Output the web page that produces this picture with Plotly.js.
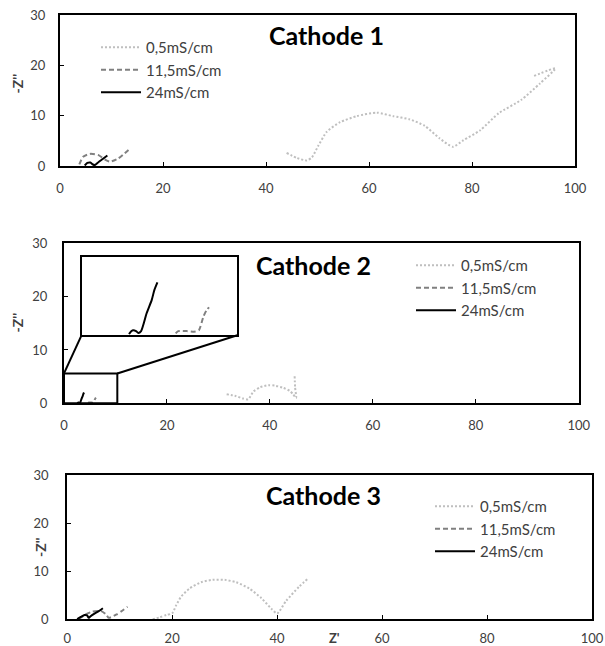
<!DOCTYPE html>
<html>
<head>
<meta charset="utf-8">
<script src="https://cdn.plot.ly/plotly-3.0.1.min.js"></script>
<style>html,body{margin:0;padding:0;background:#fff;}#chart{width:605px;height:646px;}</style>
</head>
<body>
<div id="chart"></div>
<script>
// ---------- DATA ----------
var seriesNames = ["0,5mS/cm", "11,5mS/cm", "24mS/cm"];
var panelTitles = ["Cathode 1", "Cathode 2", "Cathode 3"];
var xTickVals = [0, 20, 40, 60, 80, 100];
var yTickVals = [0, 10, 20, 30];

// Cathode 1
var c1_05_x = [44.0, 46.0, 47.9, 48.9, 50.2, 51.8, 54.4, 57.6, 61.5, 64.7, 67.8, 70.8, 73.7, 76.3, 78.3, 81.6, 85.2, 89.5, 93.2, 96.2, 91.8];
var c1_05_y = [2.6, 1.6, 1.1, 1.7, 4.1, 6.8, 8.7, 9.9, 10.6, 9.9, 9.3, 8.0, 5.5, 3.8, 5.1, 7.1, 10.5, 13.1, 16.4, 19.4, 17.8];
var c1_115_x = [3.75, 4.5, 5.8, 7.4, 8.7, 9.7, 11.3, 13.3];
var c1_115_y = [0.3, 1.85, 2.4, 2.2, 1.3, 0.85, 1.5, 3.2];
var c1_24_x = [4.8, 5.3, 5.9, 6.4, 6.8, 7.5, 8.3, 9.2];
var c1_24_y = [0.1, 0.6, 0.7, 0.3, 0.2, 0.8, 1.4, 2.1];

// Cathode 2
var c2_05_x = [31.6, 33.2, 34.8, 35.8, 36.8, 38.1, 39.7, 41.0, 42.6, 43.9, 44.5, 45.1, 44.9, 44.8];
var c2_05_y = [1.7, 1.4, 0.9, 0.75, 2.2, 3.0, 3.4, 3.3, 2.9, 2.3, 1.7, 1.0, 3.0, 5.3];
var c2_115_x = [4.72, 4.84, 5.22, 5.60, 5.78, 5.98, 6.13, 6.24];
var c2_115_y = [0.05, 0.14, 0.14, 0.12, 0.18, 0.70, 0.96, 1.06];
var c2_24_x = [2.60, 2.69, 2.78, 2.92, 3.02, 3.15, 3.40, 3.63, 3.75, 3.89];
var c2_24_y = [0.02, 0.12, 0.17, 0.14, 0.07, 0.14, 0.83, 1.34, 1.73, 2.03];

// Cathode 3
var c3_05_x = [16.3, 17.6, 18.9, 20.0, 20.8, 21.7, 23.3, 25.5, 27.7, 30.0, 32.2, 34.7, 37.0, 38.9, 40.0, 41.7, 44.2, 45.9];
var c3_05_y = [0.0, 0.4, 0.9, 1.25, 3.0, 4.7, 6.4, 7.7, 8.2, 8.2, 7.7, 6.4, 4.4, 2.2, 1.2, 3.8, 6.8, 8.5];
var c3_115_x = [2.2, 3.5, 4.8, 6.5, 7.5, 7.9, 9.4, 11.5];
var c3_115_y = [0.1, 1.0, 1.6, 1.7, 0.9, 0.3, 1.0, 2.6];
var c3_24_x = [1.9, 2.6, 3.3, 3.8, 4.1, 4.4, 5.2, 6.0, 6.8];
var c3_24_y = [0.05, 0.5, 0.9, 0.8, 0.3, 0.6, 1.2, 1.7, 2.3];

// ---------- STYLE ----------
var W = 605, H = 646;
var FONT = "Lato, 'Open Sans', sans-serif";
var TXT = "#404040";
var styles = [
  {color: "#bfbfbf", width: 2, dash: "2px,2px"},
  {color: "#808080", width: 2, dash: "5px,3px"},
  {color: "#000000", width: 2, dash: "solid"}
];
function px2x(p){ return p / W; }
function px2y(p){ return 1 - p / H; }

// panel pixel boxes [left, right, top, bottom]
var boxes = [[60, 575, 15, 166], [64, 578.7, 243.3, 403.3], [67.2, 592, 475, 619.3]];
var insetBox = [81.7, 237.3, 257.3, 334.7];

var panels = [
  [[c1_05_x, c1_05_y], [c1_115_x, c1_115_y], [c1_24_x, c1_24_y]],
  [[c2_05_x, c2_05_y], [c2_115_x, c2_115_y], [c2_24_x, c2_24_y]],
  [[c3_05_x, c3_05_y], [c3_115_x, c3_115_y], [c3_24_x, c3_24_y]]
];
var legendNames = ["legend", "legend2", "legend3"];

var traces = [];
panels.forEach(function(p, i){
  var ax = i === 0 ? "" : String(i + 1);
  p.forEach(function(s, j){
    traces.push({
      x: s[0], y: s[1], type: "scatter", mode: "lines",
      name: seriesNames[j], xaxis: "x" + ax, yaxis: "y" + ax,
      legend: legendNames[i],
      line: {color: styles[j].color, width: styles[j].width, dash: styles[j].dash, shape: "spline", smoothing: 0.6}
    });
  });
});
// inset (zoom of Cathode 2 near origin)
[[c2_115_x, c2_115_y, 1], [c2_24_x, c2_24_y, 2]].forEach(function(s){
  traces.push({
    x: s[0], y: s[1], type: "scatter", mode: "lines", showlegend: false,
    xaxis: "x4", yaxis: "y4",
    line: {color: styles[s[2]].color, width: styles[s[2]].width, dash: styles[s[2]].dash, shape: "spline", smoothing: 0.6}
  });
});

function xAxis(i, standoff){
  var b = boxes[i];
  return {
    domain: [px2x(b[0]), px2x(b[1])], range: [0, 100], anchor: i === 0 ? "y" : "y" + (i + 1),
    tickvals: xTickVals, showgrid: false, zeroline: false,
    showline: true, mirror: true, linecolor: "#000", linewidth: 2,
    ticks: "inside", ticklen: 4, tickwidth: 1, tickcolor: "#000",
    ticklabelstandoff: standoff,
    tickfont: {family: FONT, size: 13, color: TXT}, fixedrange: true
  };
}
function yAxis(i, standoff){
  var b = boxes[i];
  return {
    domain: [px2y(b[3]), px2y(b[2])], range: [0, 30], anchor: i === 0 ? "x" : "x" + (i + 1),
    tickvals: yTickVals, showgrid: false, zeroline: false,
    showline: true, mirror: true, linecolor: "#000", linewidth: 2,
    ticks: "inside", ticklen: 4, tickwidth: 1, tickcolor: "#000",
    ticklabelstandoff: standoff,
    tickfont: {family: FONT, size: 13, color: TXT}, fixedrange: true
  };
}

function legendAt(xp, yp){
  return {x: px2x(xp), y: px2y(yp), xanchor: "left", yanchor: "top", xref: "paper", yref: "paper",
    bgcolor: "rgba(0,0,0,0)", borderwidth: 0, itemwidth: 40, tracegroupgap: 0,
    font: {family: FONT, size: 15, color: TXT}};
}

var annotations = [];
var titlePos = [[326, 35], [313, 265], [323, 495]];
panelTitles.forEach(function(t, i){
  annotations.push({text: t, xref: "paper", yref: "paper", x: px2x(titlePos[i][0]), y: px2y(titlePos[i][1]),
    xanchor: "center", yanchor: "middle", showarrow: false,
    font: {family: FONT, size: 25, color: "#000", weight: "bold"}});
});
var zPos = [[17.4, 83], [17.4, 322], [40, 547]];
zPos.forEach(function(p){
  annotations.push({text: "-Z''", xref: "paper", yref: "paper", x: px2x(p[0]), y: px2y(p[1]),
    xanchor: "center", yanchor: "middle", showarrow: false, textangle: -90,
    font: {family: FONT, size: 14, color: TXT, weight: "bold"}});
});
annotations.push({text: "Z'", xref: "paper", yref: "paper", x: px2x(334), y: px2y(638),
  xanchor: "center", yanchor: "middle", showarrow: false,
  font: {family: FONT, size: 13, color: TXT, weight: "bold"}});

// zoom box and connectors on Cathode 2 (data coordinates of that panel)
var zoomRect = {x0: 0, x1: 10.36, y0: 0, y1: 5.6};
var insetRect = {x0: 3.4, x1: 33.67, y0: 12.75, y1: 27.4};
var shapes = [
  {type: "rect", xref: "x2", yref: "y2", x0: zoomRect.x0, x1: zoomRect.x1, y0: zoomRect.y0, y1: zoomRect.y1,
   line: {color: "#000", width: 2}},
  {type: "line", xref: "x2", yref: "y2", x0: zoomRect.x0, y0: zoomRect.y1, x1: insetRect.x0, y1: insetRect.y0,
   line: {color: "#000", width: 2}},
  {type: "line", xref: "x2", yref: "y2", x0: zoomRect.x1, y0: zoomRect.y1, x1: insetRect.x1, y1: insetRect.y0,
   line: {color: "#000", width: 2}}
];

var layout = {
  width: W, height: H, margin: {l: 0, r: 0, t: 0, b: 0},
  paper_bgcolor: "#fff", plot_bgcolor: "#fff",
  font: {family: FONT, color: TXT},
  xaxis: xAxis(0, 9), yaxis: yAxis(0, 10),
  xaxis2: xAxis(1, 9), yaxis2: yAxis(1, 12),
  xaxis3: xAxis(2, 6), yaxis3: yAxis(2, 14),
  xaxis4: {domain: [px2x(insetBox[0]), px2x(insetBox[1])], range: [0.45, 7.52], anchor: "y4",
    showgrid: false, zeroline: false, showticklabels: false, ticks: "",
    showline: true, mirror: true, linecolor: "#000", linewidth: 2, fixedrange: true},
  yaxis4: {domain: [px2y(insetBox[3]), px2y(insetBox[2])], range: [0, 3.0], anchor: "x4",
    showgrid: false, zeroline: false, showticklabels: false, ticks: "",
    showline: true, mirror: true, linecolor: "#000", linewidth: 2, fixedrange: true},
  legend: legendAt(96, 31),
  legend2: legendAt(411, 249),
  legend3: legendAt(430, 490),
  annotations: annotations,
  shapes: shapes
};

Plotly.newPlot("chart", traces, layout, {displayModeBar: false, staticPlot: true});
</script>
</body>
</html>
